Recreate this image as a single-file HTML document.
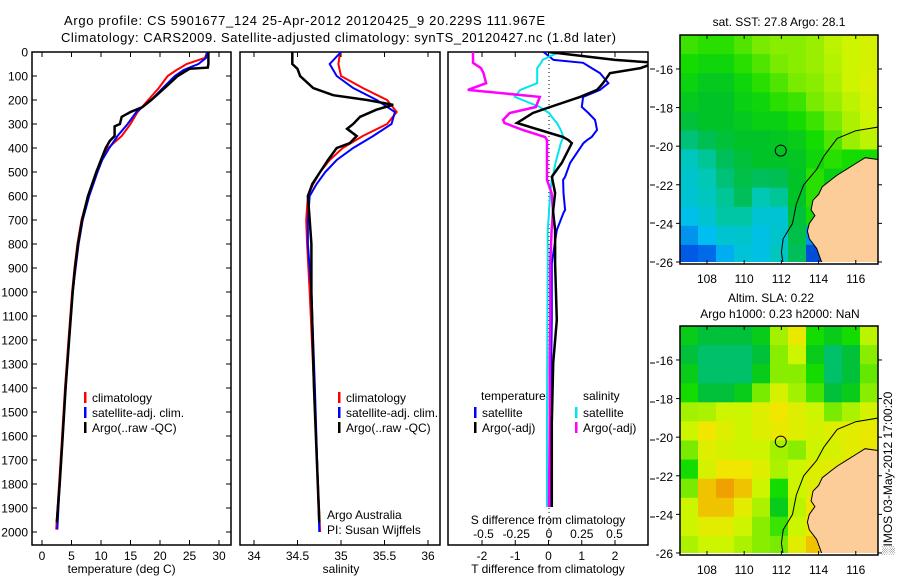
<!DOCTYPE html>
<html><head><meta charset="utf-8">
<style>
html,body{margin:0;padding:0;background:#fff;}
svg{display:block;font-family:"Liberation Sans",sans-serif;}
text{font-size:12px;fill:#000;}
</style></head>
<body>
<svg id="fig" width="900" height="580" viewBox="0 0 900 580" xmlns="http://www.w3.org/2000/svg">
<text x="64" y="25" textLength="481" style="font-size:13px">Argo profile: CS 5901677_124 25-Apr-2012 20120425_9 20.229S 111.967E</text>
<text x="61" y="42" textLength="555" style="font-size:13px">Climatology: CARS2009. Satellite-adjusted climatology: synTS_20120427.nc (1.8d later)</text>
<g id="g1"></g>
<g id="g2"></g>
<g id="g3"></g>
<g id="m1"></g>
<g id="m2"></g>
<text x="0" y="0" transform="translate(892,555) rotate(-90)" style="font-size:12px">&#x2591;IMOS 03-May-2012 17:00:20</text>
</svg>
<script>
// ---------- data ----------
const tDepth = [0,25,50,65,75,100,150,200,250,300,350,400,450,500,600,700,800,900,1000,1200,1400,1600,1800,1990];
const tClim  = [28,27.6,24.5,23.5,22.8,21.3,19.8,18,16.2,15,13.5,11.2,10,9.2,7.8,6.7,6.0,5.5,5.1,4.5,3.9,3.4,2.9,2.4];
const tSat   = [28,27.8,26.5,25,24,22.5,20.5,18.5,16,14.5,12.8,11.4,10.2,9.4,8,6.9,6.2,5.7,5.2,4.6,4.0,3.5,3.0,2.6];
const aDepth = [0,50,65,70,100,150,200,230,250,270,300,310,350,370,400,450,500,600,700,800,900,1000,1200,1400,1600,1800,1960];
const tArgo  = [28.2,28.2,28.1,25,23,20.8,18.5,17,15,13.5,13.2,12.3,12.3,11.5,10.8,10,9.2,7.8,6.8,6.1,5.6,5.2,4.6,4.0,3.5,3.0,2.5];
const sDepth = [0,50,100,150,200,250,300,350,400,450,500,550,600,700,800,1000,1400,2000];
const sClim  = [34.99,34.97,35.0,35.25,35.53,35.64,35.53,35.25,35.02,34.87,34.76,34.68,34.62,34.6,34.61,34.64,34.69,34.76];
const sSat   = [35.0,34.87,34.95,35.14,35.41,35.62,35.58,35.37,35.14,34.95,34.82,34.72,34.64,34.62,34.62,34.66,34.7,34.75];
const saDepth= [0,50,70,100,150,180,200,220,240,270,300,320,350,380,400,450,500,550,600,700,800,1000,1400,1960];
const sArgo  = [34.44,34.44,34.5,34.53,34.68,34.91,35.3,35.6,35.41,35.22,35.14,35.07,35.18,35.1,34.95,34.85,34.76,34.67,34.62,34.64,34.66,34.66,34.69,34.75];
const dDepth = [0,33,45,67,88,130,158,187,229,254,283,296,325,354,367,380,462,520,533,588,658,670,742,880,1117,1296,1546,1896];
const dtSat  = [-0.15,0.15,1.04,1.3,1.55,1.8,1.55,1.04,1.0,1.2,1.4,1.42,1.46,1.3,1.16,1.05,0.65,0.5,0.44,0.45,0.5,0.45,0.25,0.1,0.1,0.08,0.08,0.08];
const dtArgo = [0,2.0,3.2,2.77,1.85,1.64,1.46,0.95,0.05,-0.47,-0.8,-0.95,-0.26,0.44,0.6,0.7,0.4,0.1,0.12,0.2,0.14,0.14,0.2,0.2,0.25,0.14,0.1,0.1];
const dsSat  = [0.08,-0.05,-0.06,-0.09,-0.09,-0.09,-0.22,-0.26,-0.07,0.0,0.04,0.06,0.09,0.11,0.1,0.09,0.05,0.03,0.02,0.01,0.0,0.0,-0.01,-0.01,-0.012,-0.014,-0.015,-0.015];
const dsArgo = [-0.58,-0.58,-0.58,-0.52,-0.5,-0.48,-0.62,-0.07,-0.1,-0.3,-0.35,-0.34,-0.2,-0.03,-0.015,-0.015,-0.015,-0.015,-0.015,0.02,0.03,0.03,0.02,0.01,0.01,0.005,0.005,0.0];
const depthTicks = [0,100,200,300,400,500,600,700,800,900,1000,1100,1200,1300,1400,1500,1600,1700,1800,1900,2000];
const tTicks = [0,5,10,15,20,25,30];
const sTicks = [34,34.5,35,35.5,36];
const dtTicks = [-2,-1,0,1,2];
const dsTicks = [-0.5,-0.25,0,0.25,0.5];
const dsTickLabels = ["-0.5","-0.25","0","0.25","0.5"];
const lonTicks = [108,110,112,114,116];
const latTicks = [-16,-18,-20,-22,-24,-26];
const sstGrid = [
[.64,.62,.62,.66,.7,.72,.72,.74,.78,.8,.82],
[.6,.58,.58,.62,.66,.7,.72,.74,.77,.8,.82],
[.57,.54,.54,.58,.62,.66,.7,.72,.76,.8,.84],
[.54,.52,.52,.56,.58,.62,.64,.7,.74,.78,.82],
[.5,.52,.52,.54,.56,.56,.6,.64,.7,.76,.8],
[.44,.47,.5,.52,.52,.53,.55,.6,.66,.74,.78],
[.38,.42,.46,.5,.52,.52,.53,.58,.62,.6,.6],
[.36,.4,.44,.48,.46,.47,.52,.62,.56,.6,.6],
[.35,.38,.42,.46,.4,.42,.52,.62,.52,.6,.6],
[.31,.35,.41,.41,.35,.35,.5,.6,.52,.6,.6],
[.25,.3,.35,.36,.32,.36,.48,.25,.3,.6,.6],
[.18,.2,.28,.34,.32,.38,.46,.15,.1,.6,.6]];
const slaGrid = [
[.55,.5,.5,.5,.55,.75,.88,.6,.55,.6,.78],
[.5,.45,.45,.45,.5,.72,.8,.55,.45,.5,.72],
[.55,.45,.45,.45,.55,.72,.72,.6,.45,.5,.68],
[.6,.5,.5,.55,.7,.82,.75,.65,.5,.55,.72],
[.75,.76,.8,.8,.85,.9,.85,.8,.7,.76,.82],
[.8,.9,.85,.8,.85,.88,.85,.82,.85,.86,.88],
[.7,.85,.82,.8,.8,.75,.72,.8,.82,.86,.88],
[.6,.82,.9,.9,.85,.76,.8,.85,.86,.88,.9],
[.7,.95,1.0,.95,.8,.6,.8,.85,.9,.9,.9],
[.8,.95,.95,.86,.76,.55,.78,.9,.9,.9,.9],
[.8,.86,.86,.8,.72,.64,.8,.9,.92,.9,.9],
[.76,.8,.8,.76,.72,.7,.86,.95,.95,.9,.9]];
const landLon = [117.25,116.5,116,115.5,115,114.6,114.2,114.0,113.7,113.6,113.8,113.5,113.4,113.5,113.9,114.2,117.25];
const landLat = [-20.7,-20.6,-20.9,-21.2,-21.5,-21.8,-22.1,-22.5,-22.8,-23.3,-23.6,-24,-24.4,-24.8,-25.3,-26.1,-26.1];
const shelfLon = [117.25,116,115,114.3,113.9,113.2,112.8,112.6,112.1,112.0,112.1];
const shelfLat = [-19.0,-19.2,-19.6,-20.5,-21.2,-22,-23,-24,-24.8,-25.5,-26.1];
const argoLon = 111.967, argoLat = -20.229;

// ---------- helpers ----------
const NS="http://www.w3.org/2000/svg";
function mk(parent,tag,attrs){const e=document.createElementNS(NS,tag);for(const k in attrs)e.setAttribute(k,attrs[k]);parent.appendChild(e);return e;}
const TOP=52,BOT=545;
const yD = d => TOP + d*0.24;
function linePath(xs,ds,fx){return xs.map((v,i)=>(i?'L':'M')+fx(v).toFixed(1)+','+yD(ds[i]).toFixed(1)).join(' ');}

function panelFrame(g,x0,x1,name){
  const r=mk(g,'rect',{x:x0,y:TOP,width:x1-x0,height:BOT-TOP,fill:'none',stroke:'#000','stroke-width':1.5});
  
  
}
function addText(g,x,y,s,anchor,name,size){
  const t=mk(g,'text',{x:x,y:y,'text-anchor':anchor||'start'});
  if(size)t.style.fontSize=size+'px';
  t.textContent=s;
  
  
  return t;
}
function series(g,xs,ds,fx,color,w,name,clip){
  const p=mk(g,'path',{d:linePath(xs,ds,fx),fill:'none',stroke:color,'stroke-width':w,'stroke-linejoin':'miter'});
  if(clip)p.setAttribute('clip-path',clip);
  
  
}
function legend(g,x,y,color,label,name){
  const r=mk(g,'rect',{x:x,y:y-10,width:2.5,height:11,fill:color});
  
  
  addText(g,x+8,y,label,'start',name+'-label');
}
const defs=mk(document.getElementById('fig'),'defs',{});
function clipRect(id,x,y,w,h){const c=mk(defs,'clipPath',{id:id});mk(c,'rect',{x:x,y:y,width:w,height:h});}

// ---------- panel 1: temperature ----------
(function(){
  const g=document.getElementById('g1');const x0=32,x1=231;
  const fx=t=>42+t*5.9;
  panelFrame(g,x0,x1,'temperature-panel');
  depthTicks.forEach(d=>{
    const y=yD(d);
    mk(g,'line',{x1:x0,x2:x0+5,y1:y,y2:y,stroke:'#000'});
    mk(g,'line',{x1:x1,x2:x1-5,y1:y,y2:y,stroke:'#000'});
    addText(g,28,y+4.5,String(d),'end','depth-tick-label');
  });
  tTicks.forEach(t=>{
    const x=fx(t);
    mk(g,'line',{x1:x,x2:x,y1:BOT,y2:BOT-5,stroke:'#000'});
    mk(g,'line',{x1:x,x2:x,y1:TOP,y2:TOP+5,stroke:'#000'});
    addText(g,x,BOT+15,String(t),'middle','temperature-tick-label');
  });
  addText(g,fx(13.5),573,'temperature (deg C)','middle','temperature-axis-title');
  series(g,tClim,tDepth,fx,'#ff0000',2,'temperature-climatology-line');
  series(g,tSat,tDepth,fx,'#0000ff',2,'temperature-satellite-line');
  series(g,tArgo,aDepth,fx,'#000000',2.5,'temperature-argo-line');
  legend(g,84,402,'#ff0000','climatology','legend-climatology');
  legend(g,84,417,'#0000ff','satellite-adj. clim.','legend-satellite');
  legend(g,84,432,'#000','Argo(..raw -QC)','legend-argo');
})();

// ---------- panel 2: salinity ----------
(function(){
  const g=document.getElementById('g2');const x0=240,x1=440;
  const fx=s=>254+(s-34)*87;
  panelFrame(g,x0,x1,'salinity-panel');
  sTicks.forEach(s=>{
    const x=fx(s);
    mk(g,'line',{x1:x,x2:x,y1:BOT,y2:BOT-5,stroke:'#000'});
    mk(g,'line',{x1:x,x2:x,y1:TOP,y2:TOP+5,stroke:'#000'});
    addText(g,x,BOT+15,String(s),'middle','salinity-tick-label');
  });
  addText(g,fx(35),573,'salinity','middle','salinity-axis-title');
  series(g,sClim,sDepth,fx,'#ff0000',2,'salinity-climatology-line');
  series(g,sSat,sDepth,fx,'#0000ff',2,'salinity-satellite-line');
  series(g,sArgo,saDepth,fx,'#000',2.5,'salinity-argo-line');
  legend(g,338,402,'#ff0000','climatology','legend-climatology');
  legend(g,338,417,'#0000ff','satellite-adj. clim.','legend-satellite');
  legend(g,338,432,'#000','Argo(..raw -QC)','legend-argo');
  addText(g,327,519,'Argo Australia','start','argo-australia-label');
  addText(g,327,534,'PI: Susan Wijffels','start','pi-label');
})();

// ---------- panel 3: differences ----------
(function(){
  const g=document.getElementById('g3');const x0=448,x1=648;
  const fT=v=>548.5+v*33.25, fS=v=>549+v*131;
  clipRect('c3',x0,TOP,x1-x0,BOT-TOP);
  panelFrame(g,x0,x1,'difference-panel');
  mk(g,'line',{x1:549,x2:549,y1:TOP,y2:BOT,stroke:'#000','stroke-dasharray':'1,3'});
  dtTicks.forEach(t=>{
    const x=fT(t);
    mk(g,'line',{x1:x,x2:x,y1:BOT,y2:BOT-5,stroke:'#000'});
    mk(g,'line',{x1:x,x2:x,y1:TOP,y2:TOP+5,stroke:'#000'});
    addText(g,x,BOT+15,String(t),'middle','t-difference-tick-label');
  });
  dsTicks.forEach((s,i)=>{
    addText(g,fS(s),538,dsTickLabels[i],'middle','s-difference-tick-label');
  });
  [69,107,146,185,223,262,363,402,440,479,517].forEach(y=>{
    mk(g,'line',{x1:x1+2,x2:x1+7,y1:y,y2:y,stroke:'#000'});
  });
  addText(g,548,524,'S difference from climatology','middle','s-difference-axis-title');
  addText(g,548,573,'T difference from climatology','middle','t-difference-axis-title');
  series(g,dtSat,dDepth,fT,'#0000ff',2,'t-satellite-diff-line','url(#c3)');
  series(g,dsSat,dDepth,fS,'#00e5ee',2,'s-satellite-diff-line','url(#c3)');
  series(g,dsArgo,dDepth,fS,'#ff00ff',2.5,'s-argo-diff-line','url(#c3)');
  series(g,dtArgo,dDepth,fT,'#000',2.5,'t-argo-diff-line','url(#c3)');
  mk(g,'rect',{x:478,y:388,width:68,height:13,fill:'#fff'});
  addText(g,481,400,'temperature','start','legend-temperature-heading');
  addText(g,583,400,'salinity','start','legend-salinity-heading');
  legend(g,474,417,'#0000ff','satellite','legend-t-satellite');
  legend(g,474,432,'#000','Argo(-adj)','legend-t-argo');
  legend(g,575,417,'#00e5ee','satellite','legend-s-satellite');
  legend(g,575,432,'#ff00ff','Argo(-adj)','legend-s-argo');
})();

// ---------- maps ----------
const cmapStops=[[0,[0,20,140]],[0.18,[0,90,230]],[0.3,[0,190,240]],[0.4,[0,200,180]],[0.46,[0,190,90]],[0.52,[0,195,40]],[0.6,[20,220,0]],[0.7,[120,235,0]],[0.8,[205,245,0]],[0.9,[240,230,0]],[1.0,[240,160,0]]];
function cmap(v){
  for(let i=1;i<cmapStops.length;i++){
    if(v<=cmapStops[i][0]){const a=cmapStops[i-1],b=cmapStops[i];const f=(v-a[0])/(b[0]-a[0]);
      return 'rgb('+a[1].map((c,k)=>Math.round(c+(b[1][k]-c)*f)).join(',')+')';}
  }
  return 'rgb(240,160,0)';
}
function drawMap(id,top,grid,titles){
  const g=document.getElementById(id);
  const L=680,R=878,B=top+229;
  const fx=lon=>L+(lon-106.55)*18.6;
  const fy=lat=>top+(-14.24-lat)*19.3;
  const cid='clip'+id;clipRect(cid,L,top,R-L,B-top-2);
  const cg=mk(g,'g',{'clip-path':'url(#'+cid+')'});
  const cw=(R-L)/grid[0].length, ch=(B-top)/grid.length;
  grid.forEach((row,r)=>row.forEach((v,c)=>{
    const rc=mk(cg,'rect',{x:(L+c*cw).toFixed(1),y:(top+r*ch).toFixed(1),width:(cw+0.6).toFixed(1),height:(ch+0.6).toFixed(1),fill:cmap(v)});
    
    
  }));
  const land=mk(cg,'polygon',{points:landLon.map((lo,i)=>fx(lo).toFixed(1)+','+fy(landLat[i]).toFixed(1)).join(' '),fill:'#fccc99',stroke:'#000','stroke-width':1});
  
  
  const sh=mk(cg,'polyline',{points:shelfLon.map((lo,i)=>fx(lo).toFixed(1)+','+fy(shelfLat[i]).toFixed(1)).join(' '),fill:'none',stroke:'#000','stroke-width':1});
  
  
  const ci=mk(g,'circle',{cx:fx(argoLon),cy:fy(argoLat),r:5.5,fill:'none',stroke:'#000','stroke-width':1});
  
  
  const fr=mk(g,'rect',{x:L,y:top,width:R-L,height:B-top,fill:'none',stroke:'#000','stroke-width':1.5});
  
  
  lonTicks.forEach(lo=>{const x=fx(lo);
    mk(g,'line',{x1:x,x2:x,y1:top,y2:top+4,stroke:'#000'});
    mk(g,'line',{x1:x,x2:x,y1:B,y2:B-4,stroke:'#000'});
    addText(g,x,B+19,String(lo),'middle','longitude-tick-label');});
  latTicks.forEach(la=>{const y=fy(la);
    mk(g,'line',{x1:L-4,x2:L,y1:y,y2:y,stroke:'#000'});
    mk(g,'line',{x1:R,x2:R+4,y1:y,y2:y,stroke:'#000'});
    addText(g,673,y+5,String(la),'end','latitude-tick-label');});
  titles.forEach((t,i)=>addText(g,t[1],t[2],t[0],'middle','map-title'));
}
drawMap('m1',35,sstGrid,[['sat. SST: 27.8  Argo: 28.1',779,26]]);
drawMap('m2',326,slaGrid,[['Altim. SLA: 0.22',771,302],['Argo h1000: 0.23 h2000: NaN',780,318]]);
</script>
</body></html>
